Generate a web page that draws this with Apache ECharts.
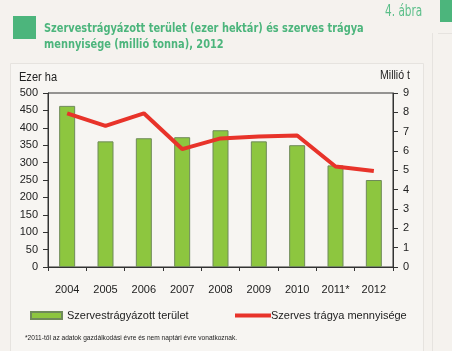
<!DOCTYPE html>
<html>
<head>
    <meta charset="utf-8">
    <title>4. ábra</title>
    <script src="https://cdn.jsdelivr.net/npm/echarts@6/dist/echarts.min.js"></script>
    <style>
        html, body { margin: 0; padding: 0; background: #f5f2ee; }
        #chart { width: 452px; height: 351px; }
    </style>
</head>
<body>
<div id="chart"></div>
<script type="text/javascript">
    // évek
    var years = ['2004', '2005', '2006', '2007', '2008', '2009', '2010', '2011*', '2012'];
    // szervestrágyázott terület, ezer ha
    var area = [463, 361, 370, 373, 393, 361, 350, 292, 250];
    // szerves trágya mennyisége, millió t
    var manure = [7.95, 7.3, 7.95, 6.1, 6.65, 6.75, 6.8, 5.2, 4.97];
    var leftTicks = [0, 500, 50];
    var rightTicks = [0, 9, 1];

    var font = '"Liberation Sans", Arial, sans-serif';
    var green = '#4cb57c';

    var chart = echarts.init(document.getElementById('chart'));
    chart.setOption({
        backgroundColor: '#f5f2ee',
        animation: false,
        textStyle: { fontFamily: font },
        graphic: [
            // panel
            { type: 'rect', shape: { x: 10.5, y: 63.5, width: 413, height: 300 },
              style: { fill: '#f7f5f2', stroke: '#e6e3df', lineWidth: 1 }, z: -10 },
            // jobb oldali díszítés
            { type: 'rect', shape: { x: 440, y: 0, width: 12, height: 22 }, style: { fill: green } },
            { type: 'line', shape: { x1: 432.5, y1: 33, x2: 432.5, y2: 351 }, style: { stroke: '#e6e3df', lineWidth: 1 } },
            { type: 'line', shape: { x1: 438, y1: 33.5, x2: 452, y2: 33.5 }, style: { stroke: '#e6e3df', lineWidth: 1 } },
            // cím
            { type: 'rect', shape: { x: 13, y: 16, width: 23, height: 23 }, style: { fill: green } },
            { type: 'text', x: 385, y: 5, scaleX: 0.78, style: { text: '4. ábra', fill: '#5cbf8a', font: '15px "DejaVu Sans Condensed", sans-serif' } },
            { type: 'text', x: 44, y: 21, scaleX: 0.84, style: {
                text: 'Szervestrágyázott terület (ezer hektár) és szerves trágya\nmennyisége (millió tonna), 2012',
                fill: green, lineHeight: 16, font: 'bold 13px "DejaVu Sans Condensed", sans-serif' } },
            // tengelynevek
            { type: 'text', x: 19, y: 72, scaleX: 0.92, style: { text: 'Ezer ha', fill: '#222', font: '12px ' + font } },
            { type: 'text', x: 380, y: 70, scaleX: 0.88, style: { text: 'Millió t', fill: '#222', font: '12px ' + font } },
            // lábjegyzet
            { type: 'text', x: 25, y: 335, style: {
                text: '*2011-től az adatok gazdálkodási évre és nem naptári évre vonatkoznak.',
                fill: '#222', font: '6.6px ' + font } }
        ],
        grid: {
            left: 48, right: 59, top: 93, bottom: 84,
            show: true, borderColor: '#333', borderWidth: 1, backgroundColor: 'transparent'
        },
        legend: [{
            data: ['Szervestrágyázott terület'],
            left: 30, top: 310, padding: 0,
            itemWidth: 31, itemHeight: 7, icon: 'rect',
            textStyle: { fontSize: 11, color: '#222', fontFamily: font }
        }, {
            data: ['Szerves trágya mennyisége'],
            left: 235, top: 310, padding: 0,
            itemWidth: 36, itemHeight: 4, icon: 'rect',
            textStyle: { fontSize: 11, color: '#222', fontFamily: font, padding: [0, 0, 0, -5] }
        }],
        xAxis: {
            type: 'category',
            data: years,
            axisLine: { lineStyle: { color: '#333' } },
            axisTick: { show: true, inside: false, length: 4, lineStyle: { color: '#333' } },
            axisLabel: { color: '#222', fontSize: 11, margin: 17, interval: 0, fontFamily: font }
        },
        yAxis: [{
            type: 'value',
            min: leftTicks[0], max: leftTicks[1], interval: leftTicks[2],
            axisLine: { show: true, lineStyle: { color: '#333' } },
            axisTick: { show: true, length: 5, lineStyle: { color: '#333' } },
            axisLabel: { color: '#222', fontSize: 11, margin: 10, fontFamily: font },
            splitLine: { show: false }
        }, {
            type: 'value',
            position: 'right',
            min: rightTicks[0], max: rightTicks[1], interval: rightTicks[2],
            axisLine: { show: true, lineStyle: { color: '#333' } },
            axisTick: { show: true, length: 5, lineStyle: { color: '#333' } },
            axisLabel: { color: '#222', fontSize: 11, margin: 10, fontFamily: font },
            splitLine: { show: false }
        }],
        series: [{
            name: 'Szervestrágyázott terület',
            type: 'bar',
            data: area,
            barWidth: 16,
            itemStyle: { color: '#8dc63f', borderColor: '#6f8a5a', borderWidth: 1 }
        }, {
            name: 'Szerves trágya mennyisége',
            type: 'line',
            yAxisIndex: 1,
            data: manure,
            symbol: 'none',
            lineStyle: { color: '#e8332a', width: 4 },
            itemStyle: { color: '#e8332a' }
        }]
    });
</script>
</body>
</html>
